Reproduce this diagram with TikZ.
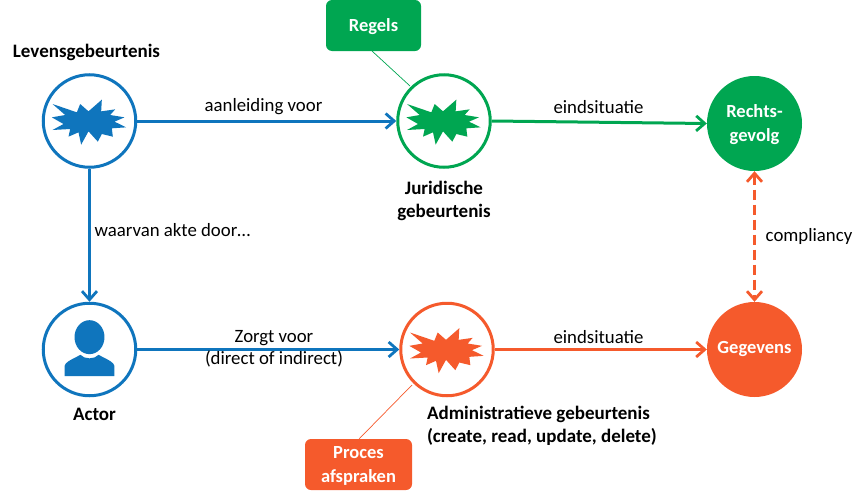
\documentclass[tikz,border=0pt]{standalone}
\usepackage{fontspec}
\setmainfont{Carlito}
\usetikzlibrary{arrows.meta}
\definecolor{cblue}{RGB}{15,117,189}
\definecolor{cgreen}{RGB}{0,166,81}
\definecolor{corange}{RGB}{245,90,44}
\tikzset{
  x=1pt,y=-1pt,
  ring/.style={circle,draw=#1,line width=3pt,fill=white,minimum size=92.5pt,inner sep=0pt},
  disc/.style={circle,fill=#1,minimum size=95pt,inner sep=0pt},
  inner text/.style={text=white,font=\fontsize{18.5}{24}\selectfont\bfseries,align=center,inner sep=0pt},
  tag/.style={rectangle,rounded corners=6pt,fill=#1,inner sep=0pt},
  tip/.tip={Straight Barb[length=8.5pt,width=15pt,line width=2.8pt]},
  conn/.style={draw=#1,line width=3pt,-tip},
  dconn/.style={draw=#1,line width=3pt,dash pattern=on 10pt off 5pt,tip-tip},
  thin link/.style={draw=#1,line width=0.7pt},
  lab/.style={font=\fontsize{18.8}{22}\selectfont,align=center,text=black},
  blab/.style={font=\fontsize{19}{23}\selectfont\bfseries,align=center,text=black},
  burst/.pic={
    \fill[#1,x=0.3333pt,y=-0.3333pt] (-111,-51)--(-38,-26)--(-28,-51)--(-3,-29)--(37,-64)--(35,-29)--(77,-35)--(62,-18)--(105,-11)--(75,2)--(110,19)--(67,22)--(70,47)--(37,39)--(25,62)--(-3,31)--(-25,71)--(-33,34)--(-63,47)--(-58,24)--(-111,27)--(-78,9)--(-113,-11)--(-73,-18)--cycle;
  },
  person/.pic={
    \fill[#1,x=0.3333pt,y=-0.3333pt] (0,-37) ellipse [x radius=45,y radius=51];
    \fill[#1,x=0.3333pt,y=-0.3333pt] (-75,80)--(-75,50) .. controls (-72,38) and (-62,34) .. (-27,16) .. controls (-15,30) and (15,30) .. (27,16) .. controls (62,34) and (72,38) .. (75,50)--(75,80)--cycle;
  }
}
\begin{document}
\begin{tikzpicture}
\useasboundingbox (0,0) rectangle (865,498);
% circles
\node[ring=cblue] (lev) at (89.5,121) {};
\node[ring=cgreen] (jur) at (444,121) {};
\node[ring=cblue] (act) at (89.5,349.5) {};
\node[ring=corange] (adm) at (447,349.5) {};
\node[disc=cgreen] (rg) at (754.5,123.5) {};
\node[disc=corange] (geg) at (754.5,349.5) {};
\node[inner text] (rgt) at (754.5,125) {Rechts-\\gevolg};
\node[inner text] (gegt) at (754.5,349) {Gegevens};
% tags
\node[tag=cgreen,minimum width=95pt,minimum height=51pt] (regels) at (373.5,25.5) {};
\node[tag=corange,minimum width=107pt,minimum height=51pt] (proces) at (358.5,464.5) {};
\node[inner text] (regelst) at (373.5,26.5) {Regels};
\node[inner text] (procest) at (358.5,465.5) {Proces\\afspraken};
% icons
\pic at (lev.center) {burst=cblue};
\pic at (jur.center) {burst=cgreen};
\pic at (adm.center) {burst=corange};
\pic at (act.center) {person=cblue};
% connectors
\draw[conn=cblue] (lev.east) -- (jur.west);
\draw[conn=cblue] (lev.south) -- (act.north);
\draw[conn=cblue] (act.east) -- (adm.west);
\draw[conn=cgreen] (jur.east) -- (rg.west);
\draw[conn=corange] (adm.east) -- (geg.west);
\draw[dconn=corange] (rg.south) -- (geg.north);
\coordinate (regelsfoot) at (372,51);
\coordinate (jurrim) at (410,86);
\coordinate (procesfoot) at (359,439);
\coordinate (admrim) at (412,385);
\draw[thin link=cgreen] (regelsfoot) -- (jurrim);
\draw[thin link=corange] (procesfoot) -- (admrim);
% labels
\node[blab] (t1) at (86.5,52) {Levensgebeurtenis};
\node[blab] (t2) at (444,201) {Juridische\\gebeurtenis};
\node[blab] (t3) at (94.5,414) {Actor};
\node[blab,align=left,anchor=west] (t4) at (423.5,426) {Administratieve gebeurtenis\\(create, read, update, delete)};
\node[lab] (l1) at (263.5,107) {aanleiding voor};
\node[lab] (l2) at (598.5,107) {eindsituatie};
\node[lab] (l3) at (172.5,230) {waarvan akte door…};
\node[lab] (l4) at (274,348.5) {Zorgt voor\\(direct of indirect)};
\node[lab] (l5) at (598.5,337) {eindsituatie};
\node[lab] (l6) at (809,236) {compliancy};
\end{tikzpicture}
\end{document}
